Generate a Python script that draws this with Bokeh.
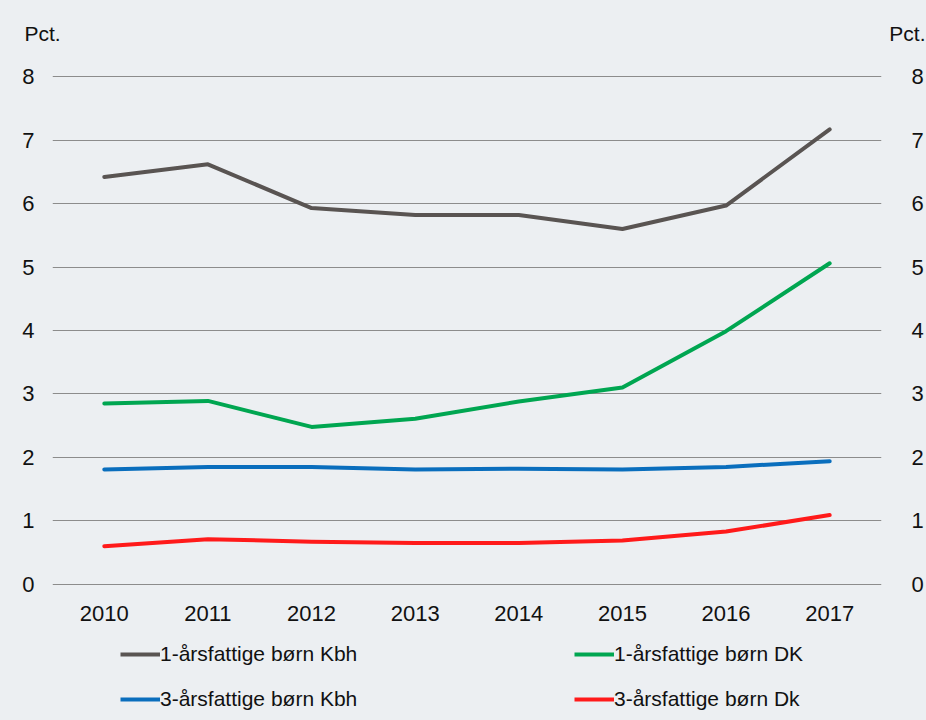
from bokeh.plotting import figure
from bokeh.layouts import column
from bokeh.models import (LinearAxis, Range1d, FactorRange, Legend, LegendItem,
                          Label, FixedTicker)
from bokeh.embed import file_html
from bokeh.resources import INLINE

years = ["2010", "2011", "2012", "2013", "2014", "2015", "2016", "2017"]
kbh_1 = [6.42, 6.62, 5.93, 5.82, 5.82, 5.60, 5.97, 7.17]
dk_1 = [2.85, 2.89, 2.48, 2.61, 2.88, 3.10, 3.99, 5.06]
kbh_3 = [1.81, 1.85, 1.85, 1.81, 1.82, 1.81, 1.85, 1.94]
dk_3 = [0.60, 0.71, 0.67, 0.65, 0.65, 0.69, 0.83, 1.09]
y_ticks = [0, 1, 2, 3, 4, 5, 6, 7, 8]
unit_label = "Pct."
series_labels = ["1-årsfattige børn Kbh", "1-årsfattige børn DK",
                 "3-årsfattige børn Kbh", "3-årsfattige børn Dk"]
series_colors = ["#595452", "#00A651", "#0A6EBD", "#FF1A1A"]
series_values = [kbh_1, dk_1, kbh_3, dk_3]

BG = "#ECEFF2"
FONT = "Liberation Sans"
W = 926
TOP_H, MAIN_H, LEG_H = 56, 574, 90


def blank(h, xr, yr):
    f = figure(width=W, height=h, x_range=xr, y_range=yr, output_backend="svg",
               toolbar_location=None, x_axis_type=None, y_axis_type=None,
               background_fill_color=BG, border_fill_color=BG,
               outline_line_color=None, min_border=0, frame_align=False)
    f.xgrid.grid_line_color = None
    f.ygrid.grid_line_color = None
    return f


# top strip with the unit labels
top = blank(TOP_H, Range1d(0, W), Range1d(0, TOP_H))
top.add_layout(Label(x=24, y=TOP_H - 33, text=unit_label, text_align="left",
                     text_baseline="middle", text_font=FONT,
                     text_font_size="21px", text_color="#111111"))
top.add_layout(Label(x=W - 1, y=TOP_H - 33, text=unit_label, text_align="right",
                     text_baseline="middle", text_font=FONT,
                     text_font_size="21px", text_color="#111111"))

# main chart
p = figure(width=W, height=MAIN_H, x_range=FactorRange(*years, range_padding=0),
           y_range=Range1d(-0.02, 8.02), output_backend="svg", toolbar_location=None,
           background_fill_color=BG, border_fill_color=BG,
           min_border_left=52, min_border_right=35, min_border_top=19,
           min_border_bottom=45, outline_line_color=None, y_axis_location=None,
           frame_align=False)

p.xgrid.grid_line_color = None
p.ygrid.grid_line_color = "#8C8C8C"
p.ygrid.grid_line_width = 1
p.ygrid.ticker = FixedTicker(ticks=y_ticks)

xa = p.xaxis[0]
xa.axis_line_color = None
xa.major_tick_line_color = None
xa.minor_tick_line_color = None
xa.major_label_text_font = FONT
xa.major_label_text_font_size = "22px"
xa.major_label_text_color = "#111111"
xa.major_label_standoff = 14

for side, standoff in (("left", 12), ("right", 24)):
    ax = LinearAxis(ticker=FixedTicker(ticks=y_ticks))
    ax.axis_line_color = None
    ax.major_tick_line_color = None
    ax.minor_tick_line_color = None
    ax.major_label_text_font = FONT
    ax.major_label_text_font_size = "22px"
    ax.major_label_text_color = "#111111"
    ax.major_label_standoff = standoff
    p.add_layout(ax, side)

for vals, col in zip(series_values, series_colors):
    p.line(years, vals, line_color=col, line_width=4, line_join="round",
           line_cap="round")

# legend strip (its renderers carry the series but lie outside its view)
leg = blank(LEG_H, Range1d(0, W), Range1d(100, 100 + LEG_H))
items = []
for lab, col, vals in zip(series_labels, series_colors, series_values):
    r = leg.line(list(range(len(vals))), vals, line_color=col, line_width=4)
    items.append(LegendItem(label=lab, renderers=[r]))
legend = Legend(items=items, location=(120, 9), orientation="horizontal", ncols=2,
                glyph_width=40, glyph_height=20, label_height=20, label_standoff=0,
                label_width=393, spacing=21, padding=0, margin=0,
                border_line_color=None, background_fill_alpha=0,
                label_text_font=FONT, label_text_font_size="21px",
                label_text_color="#111111")
leg.add_layout(legend, "center")

layout = column(top, p, leg, spacing=0, styles={"background-color": BG})
open("out.html", "w").write(file_html(layout, INLINE))
